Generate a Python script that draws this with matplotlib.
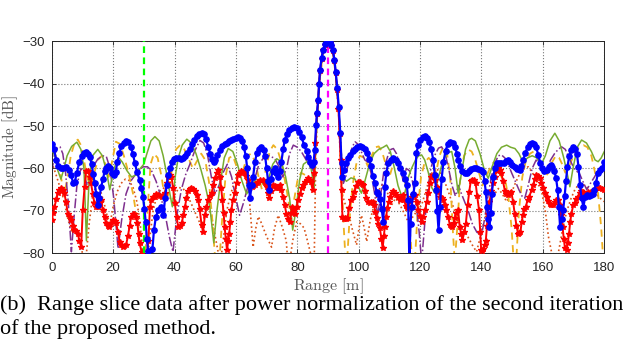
import matplotlib
matplotlib.use("Agg")
import matplotlib.pyplot as plt
import numpy as np

# ---------------- data (range [m], magnitude [dB]) ----------------
blue_r = [0,0.7,1.5,2.2,3.0,3.8,4.7,5.5,6.3,7.0,7.5,8.2,9.0,9.8,10.5,11.2,11.8,12.4,13.0,13.5,14.0,14.5,15.0,15.5,16.1,16.7,17.2,17.8,18.4,19.0,19.6,20.2,20.8,21.4,22.0,22.7,23.4,24.2,25.0,25.8,26.5,27.1,27.8,28.6,29.2,29.7,30.2,30.6,31.0,31.4,31.8,32.4,32.8,33.3,33.9,34.7,35.5,36.0,36.4,36.9,37.4,38.0,38.6,39.2,39.9,40.6,41.3,42.0,42.8,43.5,44.2,45.0,45.7,46.5,47.2,48.0,48.8,49.5,50.2,51.0,51.6,52.1,52.7,53.3,54.0,54.8,55.6,56.3,57.0,57.8,58.5,59.2,60.0,60.7,61.4,62.0,62.6,63.2,63.7,64.2,64.6,65.1,65.6,66.2,66.8,67.5,68.3,69.0,69.5,70.0,70.5,70.9,71.4,72.0,72.6,73.2,73.7,74.3,74.8,75.4,75.9,76.6,77.4,78.2,79.0,79.8,80.6,81.4,82.2,83.0,83.6,84.2,84.8,85.3,85.7,86.1,86.4,86.8,87.1,87.4,87.9,88.4,89.0,89.6,90.1,90.6,91.1,91.6,92.1,92.5,93.0,93.5,94.0,94.4,94.7,95.2,95.8,96.5,97.2,98.0,98.8,99.6,100.4,101.2,102.0,102.7,103.4,104.0,104.6,105.2,105.8,106.4,106.9,107.5,108.0,108.5,109.0,109.6,110.4,111.2,112.0,112.8,113.6,114.5,115.2,115.7,116.1,116.5,116.9,117.2,117.8,118.3,118.8,119.4,120.1,120.8,121.5,122.3,123.0,123.6,124.3,124.8,125.2,125.6,126.0,126.5,127.0,127.6,128.3,129.0,129.8,130.6,131.4,132.0,132.5,133.1,133.8,134.5,135.2,136.0,136.7,137.4,138.2,139.0,139.8,140.5,141.0,141.4,141.8,142.2,142.6,143.0,143.4,143.8,144.4,145.1,145.8,146.5,147.2,147.9,148.6,149.3,150.0,150.8,151.6,152.4,153.0,153.6,154.3,155.0,155.7,156.4,157.1,157.8,158.5,159.1,159.7,160.4,161.2,161.9,162.5,163.1,163.7,164.3,164.8,165.2,165.6,166.1,166.6,167.1,167.5,168.0,168.6,169.2,169.9,170.6,171.1,171.6,172.1,172.6,173.2,173.8,174.4,175.0,175.6,176.2,176.8,177.3,177.9,178.6,179.3,180.0]
blue_db = [-54.3,-55.5,-58,-59.5,-60,-59.8,-59.6,-60.3,-61.5,-63.5,-63.2,-61,-58.4,-57,-56.4,-56.2,-56.5,-57.2,-59,-61.2,-63.5,-66,-68.6,-67,-64.3,-62.5,-60.7,-59.8,-59.3,-59.8,-61,-61.5,-60.8,-58.5,-56.4,-54.8,-53.9,-53.5,-53.8,-54.9,-56.7,-58.8,-60.8,-62.7,-64.5,-66.6,-69.5,-72.5,-76.5,-79.5,-82,-82,-79,-74.5,-71.5,-69.8,-69,-69.5,-71,-67,-64,-61.5,-59.8,-58.5,-57.8,-57.6,-57.6,-57.7,-57.5,-57,-56.3,-55.5,-54.3,-53.2,-52.4,-51.8,-51.6,-52,-53,-54.9,-56.5,-57.8,-58.5,-58,-56.8,-55.6,-54.8,-54.2,-53.9,-53.5,-53.2,-53,-52.8,-52.6,-52.8,-53.6,-55,-57,-60,-64,-67,-64,-61.9,-58.5,-56.4,-55.3,-55,-55.6,-57,-60,-63,-65.1,-62.5,-60.5,-60,-61,-61.9,-60.5,-58.4,-55.5,-53.3,-52,-51,-50.5,-50.2,-50.4,-51.4,-52.7,-54.4,-56,-57.4,-58.5,-59.2,-58.5,-55.6,-49.8,-47,-43.9,-40,-36.8,-34,-32.1,-30.8,-30.1,-30,-30.3,-31,-32.1,-34.5,-37.2,-41,-45.5,-51.7,-58.8,-62,-60.3,-58.8,-57.6,-56.8,-56,-55.3,-54.9,-54.8,-55,-55.5,-56.3,-57.7,-59.5,-61.7,-63.3,-65.5,-65.9,-67.2,-69.5,-72.5,-64.3,-61,-58.8,-58,-57.6,-58,-58.8,-59.8,-61.1,-62.5,-64,-67.4,-82,-73,-69,-66,-63.5,-56.4,-54.5,-53.2,-52.6,-52.4,-52.9,-53.8,-55.3,-58,-61.5,-65,-70,-74.5,-69,-62.5,-58.5,-55.8,-54.3,-53.7,-54.1,-55,-56.5,-58,-59.5,-60.5,-61,-61.1,-60.7,-60.2,-60,-60,-60.1,-60.3,-60.8,-63,-65.5,-69,-72,-73.7,-70.5,-66,-62,-59.8,-58.8,-58.6,-58.7,-58.8,-58.3,-58,-58.5,-59.1,-59.6,-60.1,-60.4,-59.4,-58,-56.3,-55,-54.3,-54.1,-54.3,-55,-56.8,-58.6,-60,-60.5,-60.4,-59.6,-59.2,-59.7,-60.5,-62.3,-65,-69,-73.7,-72,-69.8,-66.5,-63,-59.6,-57,-55.6,-55,-55.5,-56.6,-59.6,-64,-67,-69,-66.6,-66.2,-66.4,-66.3,-66,-65,-63.5,-61.1,-60.4,-60,-58.4]

red_r = [0,0.5,0.9,1.5,2.0,2.5,3.0,3.6,4.1,4.7,5.2,5.8,6.3,6.9,7.4,8.0,8.5,9.0,9.6,10.1,10.7,11.2,11.9,12.4,12.8,13.4,13.9,14.5,15.0,15.6,16.1,16.6,17.2,17.7,18.3,18.8,19.4,19.9,20.5,21.0,21.6,22.1,22.7,23.2,23.7,24.2,24.8,25.4,25.9,26.4,26.8,27.4,27.9,28.3,28.6,29.3,29.8,30.8,31.5,32.0,32.5,33.0,33.6,34.1,34.7,35.2,35.8,36.4,36.9,37.4,37.9,38.5,39.0,39.5,40.1,40.7,41.2,41.8,42.3,42.9,43.4,43.9,44.4,45.0,45.5,46.0,46.6,47.2,47.7,48.2,48.8,49.3,49.9,50.4,51.0,51.5,52.1,52.6,53.2,53.7,54.3,54.8,55.2,55.6,56.0,56.3,56.7,57.1,57.5,57.8,58.2,58.5,59.0,59.6,60.2,60.7,61.2,61.8,62.3,62.9,63.4,64.0,64.5,65.1,65.6,66.2,66.8,67.3,68.0,68.9,69.5,70.0,70.5,70.9,71.5,72.1,72.7,73.2,73.7,74.2,74.8,75.3,75.9,76.4,77.0,77.5,78.0,78.4,78.8,79.2,79.8,80.3,80.9,81.4,81.9,82.4,83.0,83.5,84.0,84.4,85.0,85.5,85.9,86.4,86.8,87.1,87.4,87.9,88.4,89.0,89.6,90.1,90.6,91.1,91.6,92.1,92.5,93.0,93.4,93.8,94.1,94.4,94.7,95.1,95.5,96.0,96.3,96.9,97.4,98.0,98.6,99.2,99.9,100.5,101.0,101.5,102.0,102.5,103.1,103.6,104.1,104.6,105.0,105.4,105.8,106.4,106.9,107.4,107.8,108.2,108.5,108.9,109.3,109.8,110.2,110.7,111.2,111.8,112.3,112.8,113.4,113.9,114.4,114.9,115.3,115.7,116.1,116.6,117.2,117.8,118.3,118.9,119.4,119.9,120.5,121.0,121.6,122.2,122.7,123.2,123.7,124.3,124.8,125.4,125.9,126.5,127.0,127.5,128.0,128.6,129.2,129.7,130.1,130.5,130.9,131.3,131.8,132.4,132.9,133.4,133.8,134.4,134.9,135.5,136.0,136.5,137.0,137.5,138.1,138.6,139.2,139.6,139.9,140.3,140.6,141.0,141.4,141.8,142.1,142.6,143.2,143.8,144.3,144.9,145.4,146.0,146.5,147.0,147.6,148.1,148.6,149.2,149.7,150.3,150.8,151.4,151.9,152.3,152.7,153.1,153.5,154.0,154.4,155.0,155.6,156.3,156.9,157.4,157.9,158.5,159.0,159.5,160.1,160.7,161.2,161.7,162.2,162.8,163.3,163.9,164.4,165.0,165.5,166.0,166.4,166.8,167.2,167.7,168.1,168.5,168.9,169.3,169.9,170.4,170.9,171.4,172.0,172.5,173.1,173.7,174.2,174.8,175.4,175.9,176.5,177.0,177.6,178.2,178.7,179.3,180.0]
red_db = [-72.1,-70.5,-69,-67.2,-65.8,-65,-64.7,-65,-65.8,-68,-70.6,-71.5,-72.1,-73.5,-74.5,-74.8,-75.3,-77,-78.4,-69.8,-64.3,-60.7,-60.7,-62,-63.5,-66,-68.2,-69,-69,-68,-67.4,-69.8,-71.5,-72.9,-73.5,-73.7,-72.8,-72.1,-72.3,-72.9,-75,-77.2,-78,-78.4,-78.2,-78,-76,-73.5,-71.3,-70.7,-70.6,-71.5,-72.9,-75.5,-77.6,-79.6,-82,-82,-77,-69,-67.4,-66.8,-66.6,-66,-66.2,-66.5,-66.8,-66.3,-65.8,-63.5,-61.9,-61.5,-61.9,-64.5,-68.2,-71.5,-73.7,-73.5,-72.9,-71,-69,-67,-65.4,-64.9,-64.7,-64.9,-65.4,-66.2,-67.4,-69.5,-73.3,-74.9,-71,-69,-67.4,-66.5,-65.8,-64,-62.3,-61,-60.4,-61.9,-64.5,-67.4,-70.5,-73.7,-76.5,-79.2,-77,-75.4,-72.5,-69.8,-67.5,-65.8,-63.5,-61.5,-61,-60.7,-60.8,-61.1,-61.8,-62.7,-64,-64.3,-64.2,-64,-63.5,-63.1,-62.8,-62.7,-63.3,-64.3,-65.8,-67,-65.2,-63.9,-64.2,-64.7,-64.5,-64,-65,-66.6,-68.5,-70.6,-71.8,-72.5,-70.5,-69,-69.8,-70.6,-69,-67.4,-66,-64.7,-63.8,-63.1,-62.6,-62.3,-62.6,-63.1,-65.1,-61.1,-54.1,-47.2,-44,-40.2,-37,-34.2,-32.2,-30.9,-30.2,-30.1,-30.4,-31.1,-32.3,-34.7,-37.5,-41.5,-46,-52,-58,-65,-71.3,-71.8,-71.7,-72,-71.7,-69.4,-67.5,-66.6,-65.5,-64.2,-63.1,-63.2,-63.6,-63.9,-65.2,-67,-67.8,-68.2,-68,-67.8,-68.5,-70.2,-71.7,-73,-74.1,-76.5,-78.8,-76,-73.7,-71.5,-69.4,-67.8,-66.6,-65.8,-65.4,-65.7,-66.2,-66.8,-67.4,-66.8,-66.2,-67.5,-68.9,-69.2,-69,-67.8,-66.6,-66.3,-66.2,-68,-69.8,-71.2,-72.5,-71.3,-69.8,-67.8,-65.8,-63.5,-61.9,-61.5,-62.8,-64.3,-65.5,-66.6,-67,-67.4,-68.5,-69.8,-71.5,-73.3,-73.6,-73.7,-72.8,-71.7,-70.5,-69.8,-73.7,-75.5,-76.8,-75,-73,-68.5,-65.5,-63,-62.6,-62.8,-63.5,-66.5,-69.8,-75,-79.2,-79.4,-79,-78,-77,-73.5,-70.6,-68,-65.4,-63.5,-61.9,-60.5,-60,-60.3,-61.1,-63,-65.2,-66,-66.2,-65.8,-65.6,-67.8,-70.6,-73.5,-75.3,-75.2,-74.9,-72.5,-71,-69.5,-69,-67.5,-66.6,-65,-63.9,-62.5,-61.5,-61.8,-62.3,-63.5,-64.7,-65.8,-66.8,-67.6,-68.3,-68.7,-68.7,-67.8,-67.4,-67.5,-68.5,-71,-73.7,-76.5,-78.8,-79.2,-77.5,-75.5,-72.5,-70.6,-68.6,-68.2,-67.2,-66.6,-65.8,-65.4,-65.6,-66.1,-65.9,-65.6,-65.8,-65.5,-65.1,-64.9,-64.7,-64.6,-64.7,-64.9,-65.1]

green_r = [0,1,2,3,4,5,6.5,8.2,9.5,10.5,11.3,12.2,13.3,15,16.5,17.8,18.9,20,21.2,22,23,24.5,26,27.5,28.8,30,31,32.3,33.6,35,36.3,37.5,38.5,39.3,40.2,41.2,42.5,44,45.5,47,48.5,50,51.5,52.8,53.8,55,56.2,57.5,59,60.5,62,63.5,65,66.5,68,69.5,70.8,72,73.3,74.8,76.2,77.5,78.5,79.5,80.8,82,83.3,84.5,85.5,86.2,86.8,87.4,88.4,89.5,90.1,91,91.6,92.5,93.5,94.2,94.8,96,97.5,98.8,100,100.9,102,103.5,105,106.5,108,109.1,110.3,111.5,112.8,114,115.1,116.2,117.2,118.5,119.5,120.5,121.5,122.7,123.8,124.8,126,127.5,129,130.3,131.4,132.4,133.5,134.8,136,136.8,138,139.5,141,142.2,143.5,145,146.5,148.2,149.5,150.9,152.2,153.5,155,156.5,158,159.5,160.8,162.3,163.9,165.3,166.8,168,168.8,169.8,171.2,172.6,174.2,175.8,177,178,179,180]
green_db = [-55.5,-57,-60.5,-62.5,-60,-57,-54.8,-53.8,-55.5,-60,-77,-62,-57,-55.5,-57,-60.5,-65,-61,-58,-57.6,-58.5,-60.5,-62,-61.5,-60,-59,-56.5,-53.5,-52.5,-53.5,-57,-61.5,-66,-69,-62,-57.5,-54.5,-53.1,-54,-56.5,-60,-64,-69,-77.5,-70,-63,-57.5,-55.3,-56,-59,-63,-66,-64,-62.5,-63,-64,-62,-59,-57.7,-58.4,-62,-67,-74.5,-70,-62.5,-59,-58.3,-60,-64.5,-52,-44.5,-37.5,-32.3,-30.3,-30.1,-31,-32.3,-37.4,-46,-55,-62,-63,-62.2,-62.5,-64.5,-65.8,-63,-59,-56.5,-55.5,-55,-54.5,-56,-59.5,-64,-66.5,-65.5,-62,-60,-58,-57,-56.8,-58,-61,-64.5,-65.8,-62,-58,-56.3,-56,-60,-65.8,-61,-55.5,-53.2,-52.9,-53.5,-56.5,-60.5,-62.3,-59.5,-56.5,-55,-54.5,-55,-55.3,-56.5,-58.5,-57.5,-57,-57.5,-59,-57,-53.5,-51.7,-53.5,-57.5,-61.5,-64.3,-60,-55,-53.3,-54,-56,-58,-58.4,-57.5,-56]

purple_r = [0,0.8,1.8,2.7,3.6,4.5,5.4,6.4,7.2,8.2,9.5,10.5,11.5,12.5,13.5,15,16.5,17.8,19,20.2,21.6,22.8,24.2,25.7,27.2,28.7,29.8,31.2,32.5,34,35.5,37,38.3,39.5,40.8,42.2,43.6,45,46.5,48.3,49.5,50.8,52,53.2,54.5,55.8,57.2,58.6,60,61.2,62.5,63.8,65,66.3,67.5,69,70.8,72.6,74,75.3,76.5,77.5,78.7,80,81.3,82.5,84,85.2,85.9,86.5,87.1,88.4,89.5,90.1,91,91.6,92.5,93.5,94.3,95,95.8,97,98,98.8,99.8,100.8,102,103,104,105.2,106.2,107.2,108.3,109.5,110.5,111.3,112.3,113.5,114.5,115.5,116.5,117.5,118.7,119.7,120.5,121.3,122.3,123.5,124.7,126,127,128.2,129.3,130.4,131.5,132.5,133.5,134.6,135.7,137,138.5,140,141,142,143.2,144.5,145.5,146.5,147.6,148.7,149.8,151,152.2,153.2,154.1,155.2,156.5,157.8,159,160.2,161.3,162.5,163.8,165,166.1,167.3,168.5,169.5,170.6,171.8,173,174.3,175.5,176.8,178,179,180]
purple_db = [-61,-57,-55.2,-54.9,-56.5,-61,-68,-79.6,-72,-64,-60,-61,-64,-62,-59.5,-57.8,-57,-57.2,-60,-67,-78.8,-72,-66,-63,-61.5,-60.2,-59.6,-59.6,-60.5,-63,-66.5,-71,-76,-79.6,-71,-65,-61.5,-59,-56,-53.4,-54,-57,-62,-66,-64,-61,-59,-62,-67,-71,-68,-64.5,-65.5,-62,-59,-57.5,-57,-57.6,-59.5,-62,-60,-56.5,-54.5,-55,-56,-57.5,-59.5,-60.5,-56,-47,-39.5,-32.2,-30.3,-30.1,-31,-32.2,-37.3,-46,-56,-63.5,-62,-57,-54.8,-53.7,-54.3,-56,-58,-58.5,-61,-66,-71,-66,-60,-57,-55.5,-55.3,-56.5,-59.5,-63,-60,-60.5,-63,-68,-75,-82,-75,-66,-60,-57,-55.2,-54.9,-56.5,-60,-64,-66.5,-64,-66,-68,-70,-73,-75,-75.6,-72,-67,-62,-58.5,-57,-56.8,-57.5,-59,-61,-63,-65,-66.5,-67,-64,-60,-58,-59,-60.5,-60,-58,-56.5,-55.5,-54.9,-55.5,-57.5,-59,-60.5,-61,-63,-65,-63.5,-62,-60.5,-60,-60]

orange_r = [0,1,2,3,4,5,6.2,7.5,8.5,9.5,10.5,11.5,12.5,13.5,15,16.3,17.5,18.5,19.5,20.9,22.2,23.5,25,26.5,27.8,28.8,29.6,30.4,31.2,32.2,33.3,34.5,35.8,37,38,39.2,40.5,41.8,43.2,44.5,46,47.5,48.7,50,51.2,52.3,53.3,54.6,55.5,56.6,57.8,59,60.2,61.4,62.5,63.7,65,66.3,67.4,68.5,69.8,71,72.2,73.5,74.8,76,77,78,78.8,80,81.2,82.5,83.7,85,85.8,86.5,87.2,88.4,89.5,90.1,91,91.6,92.5,93.5,94.3,95,95.6,96.2,97,98,99.2,100.4,101.8,103,104.2,105.5,106.5,107.6,108.8,110,111,112.3,113.5,114.6,115.7,116.7,117.5,118.3,119.2,120.3,121.5,122.8,124,125.2,126.3,127.5,128.7,129.8,130.7,131.3,132,133,134.3,135.6,136.8,138,139.2,140.3,141.5,142.7,144,145.3,146.5,147.8,148.8,149.8,150.5,151.3,152.2,153.3,154.5,155.8,157,158.3,159.5,160.7,161.8,163,164.2,165.3,166.3,167.3,168.3,169.4,170.6,172,173.2,174.5,175.8,177,178,179,179.7,180]
orange_db = [-56,-56.5,-58,-62,-66,-63,-57,-53.8,-53.2,-54.5,-58,-62,-64,-62,-58,-57,-59,-62,-59,-53.7,-54.2,-57,-61,-66,-72,-78,-82,-82,-70,-59,-56.5,-57.5,-62,-68,-66,-60,-55.5,-54.5,-55.5,-57.5,-60,-58,-56.5,-58,-63,-72,-82,-82,-72,-62,-57.5,-57,-59.5,-62,-60,-57,-56.5,-58.5,-62,-65,-60,-56,-54.5,-55.5,-58.5,-63,-67,-72,-68,-63,-61,-61.5,-62.5,-64,-58,-47.5,-39.5,-32.5,-30.4,-30.2,-31.1,-32.5,-37.8,-47,-60,-72,-80,-82,-72,-64,-59,-57,-57.5,-59.5,-57,-55,-54.8,-56,-59,-62,-59.5,-58,-58.5,-61,-66,-75,-82,-82,-70,-62,-58.5,-57.5,-58.5,-61,-57,-55,-56,-62,-75,-82,-75,-63,-57,-55.5,-56,-58,-61,-64,-62,-60,-58.5,-60,-62,-63,-67,-74,-82,-82,-70,-62,-58,-56.5,-56,-57.5,-60,-62,-61,-58.5,-57,-57.5,-59,-61,-60,-58,-56,-54.8,-54.5,-55,-57,-61,-66,-74,-82,-82]

brown_r = [0,1.2,2.5,3.8,5.3,6.5,7.5,8.5,9.5,10.5,11.3,12.2,13.3,14.5,15.8,17,18,19,20,21.3,22.6,24,25.2,26.5,27.8,28.8,29.6,30.3,31,32,33,34.2,35.5,36.8,38,39.2,40.2,41.5,42.8,44,45.3,46.5,47.7,48.8,49.8,51,52,53,54.2,55,56,57,58.3,59.6,60.7,61.8,63,64.2,65.6,66.5,67.3,68.1,68.9,70,71.6,72.6,73.8,75.2,76.4,76.9,77.5,78.5,79.8,81,82.2,83.3,84.3,85,85.5,86,86.5,87.2,88.4,89.5,90.1,91,91.6,92.5,93.5,94,94.4,95.4,96.6,97.8,99.3,100.1,100.9,101.8,102.6,103.8,105.3,106.6,108,109.3,110.7,112,113.4,114.8,116.1,117.5,119,120.5,122,123.4,124.8,126.2,127.7,129.2,130.8,132.4,134,135.5,137,138.4,139.3,140.3,141.2,142.2,143.8,145.5,146.8,148.2,149.6,151,152.6,154,155.2,156.6,158,159.6,160.8,161.8,162.8,163.6,164.5,165.5,166.5,167.8,169.2,170.4,171.5,172.7,174,175.2,176.5,178,179,180]
brown_db = [-58.5,-61,-64,-67,-72,-75,-73,-76,-78,-82,-80,-73,-66.5,-64,-65,-68,-71,-73,-69,-65.5,-63.5,-62.5,-62.8,-64.5,-68,-73,-79,-82,-82,-76,-70,-66.5,-65,-64.5,-66,-68,-66,-64.5,-64.7,-66,-68,-70,-72,-73.5,-71.5,-69,-71,-75,-79.6,-82,-76,-70,-66,-63,-61.2,-60.7,-62,-65.5,-78.5,-74,-71.3,-72.5,-74,-76,-78.5,-74,-71,-74,-77,-82,-82,-77,-72.5,-73,-74,-77,-80,-82,-82,-58,-47.8,-40,-32.5,-30.4,-30.2,-31.1,-32.5,-38,-47.5,-58,-65.4,-68,-70.1,-74,-78,-74,-71,-74,-77.2,-72,-67.8,-65,-63.5,-65.5,-68.6,-67,-68.5,-70.5,-72.5,-71.5,-70,-68.6,-65,-61.5,-60,-60.5,-62.5,-65.4,-69,-72.5,-74,-76,-78,-79.6,-77,-74,-71.5,-70.1,-66.5,-64.7,-66,-67.8,-66,-63.5,-61,-60,-59.6,-61,-63,-65.4,-70,-76,-79.6,-82,-82,-78,-74,-70,-67,-65,-63.9,-63.5,-64.2,-65,-65.4,-66.5,-67.2,-67.8]

target_lines = [30, 90]
xticks = [0, 20, 40, 60, 80, 100, 120, 140, 160, 180]
yticks = [-80, -70, -60, -50, -40, -30]
caption = ["(b)\u2002Range slice data after power normalization of the second iteration",
           "of the proposed method."]

# ---------------- figure ----------------
plt.rcParams['mathtext.fontset'] = 'cm'
fig = plt.figure(figsize=(6.24, 3.44), dpi=100)
ax = fig.add_axes([0.0829, 0.2631, 0.8855, 0.6177])

ax.plot(brown_r, brown_db, color='#D95319', ls=':', lw=1.2, zorder=2)
ax.plot(orange_r, orange_db, color='#EDB120', ls=(0, (4, 3)), lw=1.3, zorder=2)
ax.plot(purple_r, purple_db, color='#7E2F8E', ls='-.', lw=1.1, zorder=2)
ax.plot(green_r, green_db, color='#77AC30', ls='-', lw=1.1, zorder=3)
ax.plot(red_r, red_db, color='#FF0000', ls='-', lw=1.4, marker='*',
        markersize=4, zorder=4)
ax.axvline(target_lines[0], color='#00FF00', ls=(0, (3, 2)), lw=1.6, zorder=5)
ax.axvline(target_lines[1], color='#FF00FF', ls=(0, (3, 2)), lw=1.6, zorder=3.5)
ax.plot(blue_r, blue_db, color='#0000FF', ls='-', lw=1.6, marker='o',
        markersize=3.8, zorder=6)

ax.set_xlim(0, 180)
ax.set_ylim(-80, -30)
ax.set_xticks(xticks)
ax.set_yticks(yticks)
ax.grid(True, ls=':', color='#555555', lw=0.8, alpha=0.8)
ax.tick_params(direction='in', length=3, width=0.6, top=True, right=True,
               labelsize=9.5, colors='#262626')
ax.tick_params(axis='x', pad=6)
ax.tick_params(axis='y', pad=5)
for lab in ax.get_xticklabels() + ax.get_yticklabels():
    lab.set_family('Liberation Sans')
for s in ax.spines.values():
    s.set_color('#262626')
    s.set_linewidth(0.7)

ax.set_xlabel(r'$\mathrm{Range\ [m]}$', fontsize=11.5, color='#555555', labelpad=2)
ax.set_ylabel(r'$\mathrm{Magnitude\ [dB]}$', fontsize=11, color='#555555')
ax.yaxis.set_label_coords(-0.057, 0.5)

fig.text(0.0, 0.098, caption[0], fontsize=16, family='Liberation Serif',
         ha='left', va='baseline', color='black')
fig.text(0.0, 0.028, caption[1], fontsize=16, family='Liberation Serif',
         ha='left', va='baseline', color='black')

fig.savefig('out.png', dpi=100)
